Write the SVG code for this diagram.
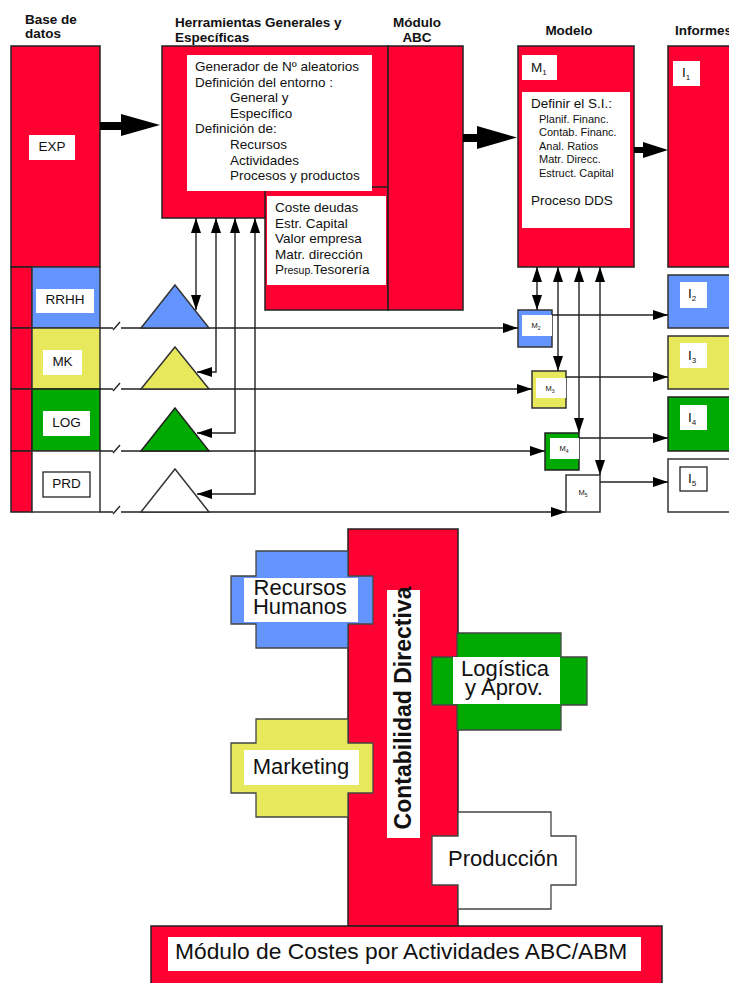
<svg xmlns="http://www.w3.org/2000/svg" width="729" height="983" viewBox="0 0 729 983">
  <style>
    .t { font-family: "Liberation Sans", Arial, sans-serif; fill: #111; }
    .ttl { font-weight: bold; font-size: 13.5px; }
    .n { font-size: 13.5px; }
    .s { font-size: 11px; }
    .big { font-size: 22px; }
    .red { fill: #FF0033; stroke: #222; stroke-width: 1.5; }
    .blue { fill: #6495FF; stroke: #333; stroke-width: 1.5; }
    .yel { fill: #E8E85C; stroke: #333; stroke-width: 1.5; }
    .grn { fill: #00AA00; stroke: #222; stroke-width: 1.5; }
    .wht { fill: #fff; stroke: #333; stroke-width: 1.5; }
    .lbl { fill: #fff; }
    .lblb { fill: #fff; stroke: #222; stroke-width: 1.3; }
    .cross { stroke: #444; stroke-width: 1.3; }
    .conn { fill: none; stroke: #222; stroke-width: 1.4; }
    .blk { fill: #000; }
  </style>
  <defs>
    <marker id="ah" markerUnits="userSpaceOnUse" markerWidth="15" markerHeight="10" refX="15" refY="5" orient="auto-start-reverse">
      <path d="M0,0 L15,5 L0,10 z" fill="#000"/>
    </marker>
  </defs>

  <rect width="729" height="983" fill="#fff"/>

  <!-- column headings -->
  <g id="headings" class="t ttl">
    <text x="25" y="24">Base de</text>
    <text x="25" y="38">datos</text>
    <text x="175" y="27">Herramientas Generales y</text>
    <text x="175" y="42">Específicas</text>
    <text x="417" y="27" text-anchor="middle">Módulo</text>
    <text x="417" y="42" text-anchor="middle">ABC</text>
    <text x="569" y="35" text-anchor="middle">Modelo</text>
    <text x="675" y="35">Informes</text>
  </g>

  <!-- database column -->
  <g id="exp">
    <rect class="red" x="11" y="46" width="89" height="221"/>
    <rect class="lbl" x="29" y="135" width="46" height="25"/>
    <text class="t n" x="52" y="150.5" text-anchor="middle">EXP</text>
  </g>
  <g id="rrhh">
    <rect class="red" x="11" y="267" width="21" height="61"/>
    <rect class="blue" x="32" y="267" width="68" height="61"/>
    <rect class="lbl" x="36" y="289" width="58" height="24"/>
    <text class="t n" x="65" y="304" text-anchor="middle">RRHH</text>
  </g>
  <g id="mk">
    <rect class="red" x="11" y="328" width="21" height="61"/>
    <rect class="yel" x="32" y="328" width="68" height="61"/>
    <rect class="lbl" x="43" y="350" width="39" height="25"/>
    <text class="t n" x="62.5" y="366" text-anchor="middle">MK</text>
  </g>
  <g id="log">
    <rect class="red" x="11" y="389" width="21" height="62"/>
    <rect class="grn" x="32" y="389" width="68" height="62"/>
    <rect class="lbl" x="43" y="411" width="47" height="25"/>
    <text class="t n" x="66.5" y="427" text-anchor="middle">LOG</text>
  </g>
  <g id="prd">
    <rect class="red" x="11" y="451" width="21" height="61"/>
    <rect class="wht" x="32" y="451" width="68" height="61"/>
    <rect class="lblb" x="43" y="472" width="47" height="25"/>
    <text class="t n" x="66.5" y="488" text-anchor="middle">PRD</text>
  </g>

  <!-- general and specific tools (frame first, its label sits above the finance box) -->
  <g id="herramientas">
    <rect class="red" x="162" y="46" width="226" height="172"/>
  </g>
  <g id="finanzas">
    <rect class="red" x="265" y="187" width="123" height="123"/>
    <rect class="lbl" x="267" y="196" width="119" height="89"/>
    <g class="t n">
      <text x="275" y="212">Coste deudas</text>
      <text x="275" y="227.6">Estr. Capital</text>
      <text x="275" y="243.2">Valor empresa</text>
      <text x="275" y="258.8">Matr. dirección</text>
      <text x="275" y="274.4">P<tspan font-size="10.5px">resup.</tspan>Tesorería</text>
    </g>
  </g>
  <g id="herramientas-texto">
    <rect class="lbl" x="187" y="55" width="185" height="136"/>
    <g class="t n">
      <text x="195" y="71">Generador de Nº aleatorios</text>
      <text x="195" y="86.6">Definición del entorno :</text>
      <text x="230" y="102.2">General y</text>
      <text x="230" y="117.8">Específico</text>
      <text x="195" y="133.4">Definición de:</text>
      <text x="230" y="149">Recursos</text>
      <text x="230" y="164.6">Actividades</text>
      <text x="230" y="180.2">Procesos y productos</text>
    </g>
  </g>
  <g id="modulo-abc">
    <rect class="red" x="388" y="46" width="75" height="264"/>
  </g>

  <!-- model column -->
  <g id="modelo">
    <rect class="red" x="518" y="46" width="116" height="221"/>
    <rect class="lbl" x="522" y="55" width="35" height="25"/>
    <text class="t n" x="531" y="72">M<tspan font-size="8px" dy="3">1</tspan></text>
    <rect class="lbl" x="522" y="92" width="108" height="136"/>
    <g class="t">
      <text class="n" x="531" y="108">Definir el S.I.:</text>
      <text class="s" x="539" y="122.7">Planif. Financ.</text>
      <text class="s" x="539" y="136.2">Contab. Financ.</text>
      <text class="s" x="539" y="149.7">Anal. Ratios</text>
      <text class="s" x="539" y="163.2">Matr. Direcc.</text>
      <text class="s" x="539" y="176.7">Estruct. Capital</text>
      <text class="n" x="531" y="205">Proceso DDS</text>
    </g>
  </g>
  <g id="m2">
    <rect class="blue" x="518" y="310" width="34" height="37"/>
    <rect class="lbl" x="522" y="315" width="30" height="21"/>
    <text class="t" font-size="7.5" x="536" y="328" text-anchor="middle">M<tspan font-size="5" dy="2">2</tspan></text>
  </g>
  <g id="m3">
    <rect class="yel" x="532" y="371" width="34" height="37"/>
    <rect class="lbl" x="536" y="378" width="30" height="20"/>
    <text class="t" font-size="7.5" x="550" y="391" text-anchor="middle">M<tspan font-size="5" dy="2">3</tspan></text>
  </g>
  <g id="m4">
    <rect class="grn" x="545" y="433" width="34" height="37"/>
    <rect class="lbl" x="550" y="438" width="29" height="21"/>
    <text class="t" font-size="7.5" x="564" y="451" text-anchor="middle">M<tspan font-size="5" dy="2">4</tspan></text>
  </g>
  <g id="m5">
    <rect class="wht" x="566" y="475" width="34" height="37"/>
    <text class="t" font-size="7.5" x="583" y="495" text-anchor="middle">M<tspan font-size="5" dy="2">5</tspan></text>
  </g>

  <!-- reports column -->
  <g id="i1">
    <rect class="red" x="668" y="46" width="72" height="221"/>
    <rect class="lbl" x="673" y="61" width="27" height="25"/>
    <text class="t n" x="682" y="77">I<tspan font-size="8px" dy="3">1</tspan></text>
  </g>
  <g id="i2">
    <rect class="blue" x="668" y="275" width="72" height="53"/>
    <rect class="lbl" x="680" y="282" width="27" height="26"/>
    <text class="t n" x="688" y="298">I<tspan font-size="8px" dy="3">2</tspan></text>
  </g>
  <g id="i3">
    <rect class="yel" x="668" y="336" width="72" height="53"/>
    <rect class="lbl" x="680" y="343" width="27" height="25"/>
    <text class="t n" x="688" y="360">I<tspan font-size="8px" dy="3">3</tspan></text>
  </g>
  <g id="i4">
    <rect class="grn" x="668" y="397" width="72" height="54"/>
    <rect class="lbl" x="680" y="405" width="27" height="25"/>
    <text class="t n" x="688" y="422">I<tspan font-size="8px" dy="3">4</tspan></text>
  </g>
  <g id="i5">
    <rect class="wht" x="668" y="459" width="72" height="53"/>
    <rect class="lblb" x="680" y="467" width="27" height="24"/>
    <text class="t n" x="688" y="483">I<tspan font-size="8px" dy="3">5</tspan></text>
  </g>

  <!-- connectors -->
  <g id="connectors">
    <polygon class="blk" points="100,122 121,122 121,114 160,125 121,136 121,130 100,130"/>
    <polygon class="blk" points="463,134 477,134 477,126 517,137.5 477,149 477,142 463,142"/>
    <polygon class="blk" points="634,147 643,147 643,142 668,150 643,158 643,153 634,153"/>

    <path class="conn" d="M100,328 H113 M113,330 L120,322 M121,328 H518" marker-end="url(#ah)"/>
    <path class="conn" d="M100,389 H113 M113,391 L120,383 M121,389 H532" marker-end="url(#ah)"/>
    <path class="conn" d="M100,451 H113 M113,453 L120,445 M121,451 H545" marker-end="url(#ah)"/>
    <path class="conn" d="M100,512 H113 M113,514 L120,506 M121,512 H566" marker-end="url(#ah)"/>

    <path class="conn" d="M196,218 V310" marker-start="url(#ah)" marker-end="url(#ah)"/>
    <path class="conn" d="M216,218 V372 H197" marker-start="url(#ah)" marker-end="url(#ah)"/>
    <path class="conn" d="M235,218 V433 H197" marker-start="url(#ah)" marker-end="url(#ah)"/>
    <path class="conn" d="M255,218 V494 H197" marker-start="url(#ah)" marker-end="url(#ah)"/>

    <path class="conn" d="M537,267 V310" marker-start="url(#ah)" marker-end="url(#ah)"/>
    <path class="conn" d="M558,267 V371" marker-start="url(#ah)" marker-end="url(#ah)"/>
    <path class="conn" d="M579,267 V433" marker-start="url(#ah)" marker-end="url(#ah)"/>
    <path class="conn" d="M600,267 V475" marker-start="url(#ah)" marker-end="url(#ah)"/>

    <path class="conn" d="M552,315 H668" marker-end="url(#ah)"/>
    <path class="conn" d="M566,377 H668" marker-end="url(#ah)"/>
    <path class="conn" d="M579,438 H668" marker-end="url(#ah)"/>
    <path class="conn" d="M600,482 H668" marker-end="url(#ah)"/>
  </g>

  <!-- aggregation triangles -->
  <g id="tri-rrhh"><polygon class="blue" points="175,285 209,328 141,328"/></g>
  <g id="tri-mk"><polygon class="yel" points="175,347 209,389 141,389"/></g>
  <g id="tri-log"><polygon class="grn" points="175,408 209,451 141,451"/></g>
  <g id="tri-prd"><polygon class="wht" points="175,469 209,512 141,512"/></g>

  <!-- management accounting block -->
  <g id="contabilidad">
    <rect class="red" x="348" y="529" width="110" height="397"/>
  </g>
  <g id="recursos-humanos">
    <polygon class="cross" fill="#6495FF" points="256,551 348,551 348,576 373,576 373,624 348,624 348,648 256,648 256,624 231,624 231,576 256,576"/>
    <rect class="lbl" x="244" y="578" width="114" height="44"/>
    <text class="t big" x="300" y="595" text-anchor="middle">Recursos</text>
    <text class="t big" x="300" y="614" text-anchor="middle">Humanos</text>
  </g>
  <g id="logistica">
    <polygon class="cross" fill="#00AA00" points="457,633 561,633 561,657 587,657 587,705 561,705 561,730 457,730 457,705 432,705 432,657 457,657"/>
    <rect class="lbl" x="453" y="657" width="107" height="47"/>
    <text class="t big" x="505" y="676" text-anchor="middle">Logística</text>
    <text class="t big" x="504" y="695" text-anchor="middle">y Aprov.</text>
  </g>
  <g id="marketing">
    <polygon class="cross" fill="#E8E85C" points="256,719 348,719 348,743 373,743 373,793 348,793 348,817 256,817 256,793 231,793 231,743 256,743"/>
    <rect class="lbl" x="244" y="750" width="115" height="35"/>
    <text class="t big" x="301" y="774" text-anchor="middle">Marketing</text>
  </g>
  <g id="produccion">
    <polygon class="cross" fill="#fff" points="458,812 551,812 551,836 576,836 576,885 551,885 551,909 458,909 458,885 432,885 432,836 458,836"/>
    <text class="t big" x="503" y="866" text-anchor="middle">Producción</text>
  </g>
  <g id="contabilidad-label">
    <rect class="lbl" x="387" y="590" width="33" height="248"/>
    <text class="t" font-weight="bold" font-size="23" text-anchor="middle" transform="translate(411,708) rotate(-90)">Contabilidad Directiva</text>
  </g>

  <!-- activity based costing module -->
  <g id="abc-abm">
    <rect class="red" x="151" y="926" width="511" height="70"/>
    <rect class="lbl" x="168" y="937" width="473" height="34"/>
    <text class="t" font-size="22.8" x="175" y="959">Módulo de Costes por Actividades ABC/ABM</text>
  </g>
</svg>
